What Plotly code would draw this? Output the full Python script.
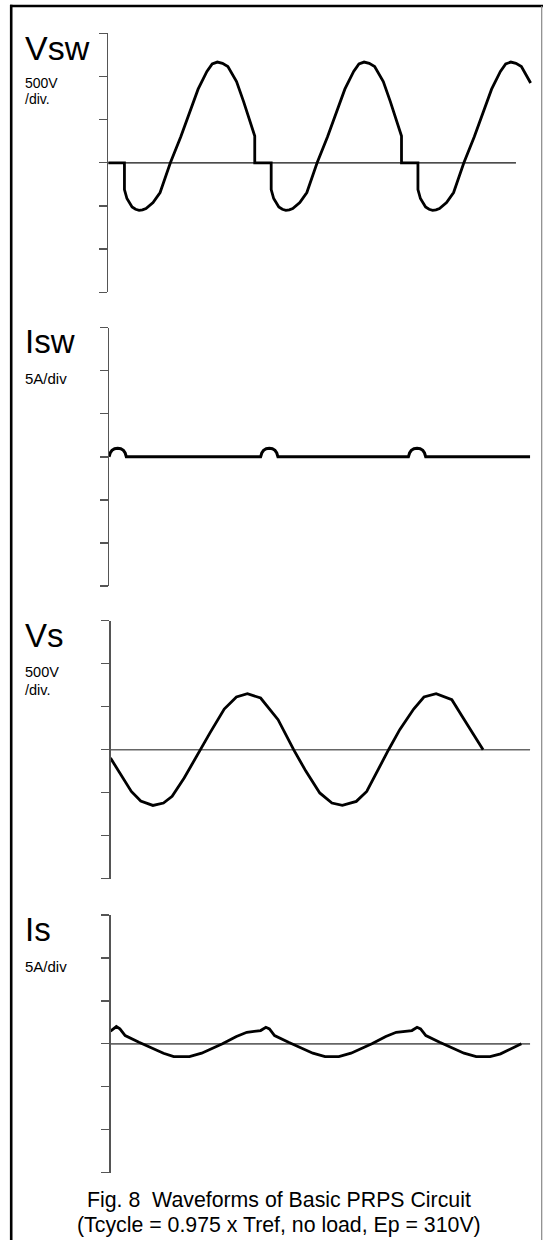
import plotly.graph_objects as go

# ---------------- data (time in arbitrary units, 10 units ~ one Vsw cycle) ----------------
vsw_t = [0.00, 1.12, 1.12, 1.29, 1.64, 1.88, 2.12, 2.35, 2.59, 3.07, 3.55, 4.25, 4.96, 5.56, 6.14, 6.74, 7.10, 7.45, 7.80, 8.17, 8.76, 9.24, 10.00,
         10.00, 11.12, 11.12, 11.29, 11.64, 11.88, 12.12, 12.35, 12.59, 13.07, 13.55, 14.25, 14.96, 15.56, 16.14, 16.74, 17.10, 17.45, 17.80, 18.17, 18.76, 19.24, 20.00,
         20.00, 21.12, 21.12, 21.29, 21.64, 21.88, 22.12, 22.35, 22.59, 23.07, 23.55, 24.25, 24.96, 25.56, 26.14, 26.74, 27.10, 27.45, 27.80, 28.17, 28.80]
vsw_v = [0, 0, -310, -414, -512, -538, -550, -545, -530, -460, -344, 0, 302, 574, 853, 1058, 1145, 1167, 1152, 1116, 942, 709, 310,
         0, 0, -310, -414, -512, -538, -550, -545, -530, -460, -344, 0, 302, 574, 853, 1058, 1145, 1167, 1152, 1116, 942, 709, 310,
         0, 0, -310, -414, -512, -538, -550, -545, -530, -460, -344, 0, 302, 574, 853, 1058, 1145, 1167, 1152, 1116, 925]
vsw_zero_t = [0.0, 27.8]

isw_t = [0.07, 0.15, 0.27, 0.45, 0.66, 0.87, 1.05, 1.17, 1.25,
         10.40, 10.48, 10.60, 10.78, 10.99, 11.20, 11.38, 11.50, 11.58,
         20.47, 20.55, 20.67, 20.85, 21.06, 21.27, 21.45, 21.57, 21.65, 28.76]
isw_i = [0, 0.45, 0.76, 0.95, 1.0, 0.95, 0.76, 0.45, 0,
         0, 0.45, 0.76, 0.95, 1.0, 0.95, 0.76, 0.45, 0,
         0, 0.45, 0.76, 0.95, 1.0, 0.95, 0.76, 0.45, 0, 0]

vs_t = [0.17, 0.81, 1.59, 2.23, 3.06, 3.78, 4.37, 5.19, 6.26, 6.97, 7.92, 8.75, 9.50, 10.40, 11.59,
        12.65, 13.49, 14.43, 15.26, 15.97, 16.92, 17.63, 19.12, 19.88, 20.83, 21.53, 22.36, 23.43, 24.14, 25.56]
vs_v = [-97, -271, -485, -597, -648, -620, -543, -329, 0, 201, 473, 613, 651, 601, 349,
        0, -252, -503, -620, -648, -601, -485, 0, 233, 473, 613, 651, 581, 387, 0]
vs_zero_t = [0.17, 28.76]

is_t = [0.17, 0.57, 0.81, 1.17, 2.11, 3.78, 4.48, 5.55, 6.38, 7.80, 8.75, 9.46, 10.40, 10.76, 11.00, 11.35,
        12.30, 13.96, 14.79, 15.73, 16.56, 17.98, 18.93, 19.64, 20.71, 21.06, 21.30, 21.66,
        22.60, 24.26, 25.09, 26.04, 26.75, 28.17]
is_i = [1.47, 2.01, 1.74, 0.97, 0.19, -1.09, -1.48, -1.48, -1.09, 0.0, 0.85, 1.35, 1.55, 1.93, 1.74, 0.97,
        0.19, -1.09, -1.48, -1.48, -1.09, 0.0, 0.85, 1.35, 1.55, 1.93, 1.74, 0.97,
        0.19, -1.09, -1.48, -1.48, -1.16, 0.0]
is_zero_t = [0.17, 28.76]

volt_ticks = [-1500, -1000, -500, 0, 500, 1000, 1500]
amp_ticks = [-15, -10, -5, 0, 5, 10, 15]

# ---------------- layout helpers ----------------
W, H = 545, 1240
def px_x(p):
    return p / W
def px_y(p):
    return 1 - p / H

T_PER_PX = 1 / 14.675
T_ORIGIN_PX = 108.0
RIGHT_PX = 540.0
def trange(left_px):
    return [(left_px - T_ORIGIN_PX) * T_PER_PX, (RIGHT_PX - T_ORIGIN_PX) * T_PER_PX]

panels = [  # (left px, top px, bottom px)
    (108.4, 33.3, 292.3),
    (109.0, 327.7, 586.0),
    (110.5, 620.7, 878.7),
    (110.5, 915.0, 1172.7),
]

fig = go.Figure()
BLACK = "#000000"
AX = "#555555"

def add(x, y, k, color=BLACK, width=2.8):
    fig.add_trace(go.Scatter(x=x, y=y, mode="lines", line=dict(color=color, width=width),
                             xaxis="x" if k == 1 else f"x{k}", yaxis="y" if k == 1 else f"y{k}",
                             hoverinfo="skip", showlegend=False))

# Vsw
add(vsw_zero_t, [0, 0], 1, color="#111111", width=1.2)
add(vsw_t, vsw_v, 1)
# Isw
add(isw_t, isw_i, 2, width=3)
# Vs
add(vs_zero_t, [0, 0], 3, color="#666666", width=1.6)
add(vs_t, vs_v, 3)
# Is
add(is_zero_t, [0, 0], 4, color="#666666", width=1.6)
add(is_t, is_i, 4)

layout = dict(width=W, height=H, margin=dict(l=0, r=0, t=0, b=0),
              paper_bgcolor="white", plot_bgcolor="rgba(0,0,0,0)", showlegend=False,
              font=dict(family="Liberation Sans, Arial, sans-serif", color="#000"))

for i, (lpx, tpx, bpx) in enumerate(panels, start=1):
    xk = "xaxis" if i == 1 else f"xaxis{i}"
    yk = "yaxis" if i == 1 else f"yaxis{i}"
    ya = "y" if i == 1 else f"y{i}"
    xa = "x" if i == 1 else f"x{i}"
    ticks = volt_ticks if i in (1, 3) else amp_ticks
    span = ticks[-1]
    layout[xk] = dict(domain=[px_x(lpx), px_x(RIGHT_PX)], range=trange(lpx), anchor=ya,
                      visible=False, fixedrange=True)
    layout[yk] = dict(domain=[px_y(bpx), px_y(tpx)], range=[-span * 1.0002, span * 1.0002], anchor=xa,
                      showline=True, linecolor=AX, linewidth=1.5, ticks="outside", ticklen=8,
                      tickwidth=1.3, tickcolor=AX, tickvals=ticks, showticklabels=False,
                      showgrid=False, zeroline=False, fixedrange=True)

fig.update_layout(**layout)

# labels: (text, left px, baseline px, size)
labels = [
    ("Vsw", 25, 59.3, 34), ("500V", 25, 88.5, 14), ("/div.", 25, 104.2, 14),
    ("Isw", 25, 353.3, 33), ("5A/div", 25, 384.0, 15),
    ("Vs", 25, 646.7, 33), ("500V", 25, 676.7, 14.5), ("/div.", 25, 695.0, 14.5),
    ("Is", 25, 941.0, 33), ("5A/div", 25, 971.7, 15),
]
for txt, xl, base, fs in labels:
    fig.add_annotation(text=txt, xref="paper", yref="paper", x=px_x(xl), y=px_y(base + 0.212 * fs),
                       xanchor="left", yanchor="bottom", showarrow=False, borderpad=0, borderwidth=0,
                       font=dict(size=fs, color="#000"))

CAP_FS = 21.3
captions = [("Fig. 8\u00a0 Waveforms of Basic PRPS Circuit", 1207.7),
            ("(Tcycle = 0.975 x Tref, no load, Ep = 310V)", 1232.0)]
for txt, base in captions:
    fig.add_annotation(text=txt, xref="paper", yref="paper", x=px_x(278.6), y=px_y(base + 0.212 * CAP_FS),
                       xanchor="center", yanchor="bottom", showarrow=False, borderpad=0, borderwidth=0,
                       font=dict(size=CAP_FS, color="#000"))

# frame
fig.add_shape(type="line", xref="paper", yref="paper", x0=px_x(11.2), x1=px_x(11.2), y0=px_y(4.8), y1=px_y(1245),
              line=dict(color="#000", width=2.6))
fig.add_shape(type="line", xref="paper", yref="paper", x0=px_x(10), x1=px_x(543), y0=px_y(6), y1=px_y(6),
              line=dict(color="#000", width=2.4))
fig.add_shape(type="line", xref="paper", yref="paper", x0=px_x(541.7), x1=px_x(541.7), y0=px_y(6), y1=px_y(1245),
              line=dict(color="#888", width=1.2))

fig.write_html("out.html", config={"displayModeBar": False, "staticPlot": True},
               post_script="document.body.style.margin='0';")
